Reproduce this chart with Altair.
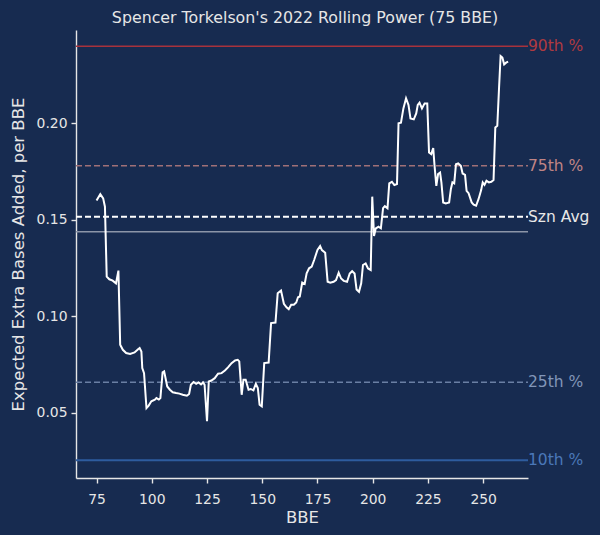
import altair as alt
import pandas as pd
import jinja2

# ---- data ----
bbe = [75.0, 76.7, 78.0, 78.8, 79.6, 80.8, 82.3, 83.8, 84.9, 85.7, 86.9, 88.4, 90.2, 92.2, 93.8, 94.5,
       95.3, 95.7, 96.5, 97.6, 98.6, 99.8, 101.4, 102.1, 103.2, 103.9, 104.9, 105.6, 107.0, 108.2,
       109.5, 111.0, 112.5, 114.0, 115.9, 116.9, 117.7, 118.9, 120.1, 121.2, 122.3, 123.2, 123.9,
       125.0, 125.8, 127.0, 128.5, 130.0, 131.6, 133.1, 134.6, 136.1, 137.7, 138.9, 139.6, 140.7,
       141.5, 142.5, 143.8, 144.8, 146.0, 147.1, 148.0, 148.8, 149.8, 150.9, 152.9, 154.0, 156.0,
       157.0, 158.5, 159.8, 161.0, 162.0, 163.1, 164.3, 165.4, 166.2, 167.0, 168.1, 169.2, 170.1,
       171.2, 172.4, 173.5, 175.0, 176.2, 177.0, 178.5, 179.6, 180.8, 182.3, 183.4, 184.6, 185.7,
       186.9, 188.4, 189.6, 190.7, 191.8, 192.7, 193.8, 194.8, 195.6, 196.8, 197.9, 199.1, 199.8,
       200.6, 201.4, 202.6, 203.7, 204.7, 205.5, 206.7, 207.5, 208.7, 209.8, 211.0, 211.7, 212.8,
       213.9, 215.1, 216.2, 217.1, 218.6, 219.7, 220.4, 221.2, 222.3, 223.5, 224.7, 225.5, 226.5,
       227.4, 228.0, 228.8, 229.6, 230.5, 231.1, 231.9, 233.1, 234.6, 235.4, 236.1, 236.9, 237.7,
       238.7, 239.9, 240.7, 241.8, 242.5, 243.4, 244.8, 245.7, 246.8, 247.9, 249.1, 249.8, 250.6,
       251.5, 252.6, 253.7, 254.7, 255.5, 256.4, 257.2, 257.9, 258.7, 259.5, 260.4, 261.3]
xeba = [0.1600, 0.1633, 0.1611, 0.1568, 0.1206, 0.1192, 0.1185, 0.1171, 0.1237, 0.0853, 0.0827, 0.0810,
        0.0805, 0.0813, 0.0830, 0.0836, 0.0818, 0.0732, 0.0706, 0.0525, 0.0538, 0.0560, 0.0569, 0.0577,
        0.0569, 0.0577, 0.0710, 0.0715, 0.0637, 0.0620, 0.0607, 0.0603, 0.0600, 0.0594, 0.0589, 0.0598,
        0.0646, 0.0660, 0.0651, 0.0658, 0.0648, 0.0658, 0.0646, 0.0457, 0.0663, 0.0668, 0.0680, 0.0703,
        0.0706, 0.0720, 0.0737, 0.0758, 0.0772, 0.0775, 0.0767, 0.0594, 0.0672, 0.0672, 0.0620, 0.0624,
        0.0617, 0.0651, 0.0629, 0.0543, 0.0534, 0.0758, 0.0761, 0.0965, 0.0968, 0.1120, 0.1134, 0.1065,
        0.1047, 0.1037, 0.1060, 0.1060, 0.1072, 0.1099, 0.1103, 0.1175, 0.1168, 0.1223, 0.1249, 0.1258,
        0.1292, 0.1344, 0.1364, 0.1343, 0.1329, 0.1179, 0.1174, 0.1179, 0.1188, 0.1226, 0.1196, 0.1184,
        0.1179, 0.1222, 0.1234, 0.1222, 0.1139, 0.1127, 0.1171, 0.1266, 0.1274, 0.1248, 0.1240, 0.1620,
        0.1416, 0.1456, 0.1464, 0.1456, 0.1560, 0.1571, 0.1560, 0.1689, 0.1697, 0.1680, 0.1685, 0.2000,
        0.2003, 0.2077, 0.2129, 0.2095, 0.2025, 0.2020, 0.2051, 0.2095, 0.2107, 0.2077, 0.2103, 0.2103,
        0.1849, 0.1840, 0.1871, 0.1780, 0.1676, 0.1737, 0.1745, 0.1694, 0.1590, 0.1585, 0.1590, 0.1660,
        0.1694, 0.1689, 0.1788, 0.1792, 0.1780, 0.1740, 0.1733, 0.1650, 0.1638, 0.1590, 0.1578, 0.1573,
        0.1607, 0.1654, 0.1694, 0.1681, 0.1702, 0.1694, 0.1697, 0.1706, 0.1978, 0.1987, 0.2185, 0.2348,
        0.2340, 0.2305, 0.2314, 0.2319]

ref_labels = ["90th %", "75th %", "Szn Avg", "", "25th %", "10th %"]
ref_values = [0.2399, 0.1780, 0.1516, 0.1438, 0.0659, 0.0255]
ref_colors = ["#a8323c", "#a07077", "#ffffff", "#8c95a8", "#6a7fa3", "#2e5c9e"]
ref_text_colors = ["#b03a40", "#c08585", "#e8e8e8", "#8c95a8", "#8296b8", "#4b78b8"]
ref_dash = [[1, 0], [6, 3], [6, 3], [1, 0], [6, 3], [1, 0]]
ref_width = [1.6, 1.6, 1.8, 1.6, 1.6, 1.8]

x_ticks = [75, 100, 125, 150, 175, 200, 225, 250]
y_ticks = [0.05, 0.10, 0.15, 0.20]

W, H = 452, 448
BG = "#172b50"
FG = "#e6e6e6"
FONT = "DejaVu Sans"

df = pd.DataFrame({"bbe": bbe, "xeba": xeba})

xscale = alt.Scale(domain=[65.7, 270.3], nice=False, zero=False)
yscale = alt.Scale(domain=[0.0163, 0.2483], nice=False, zero=False)

layers = []
for lab, val, col, tcol, dash, sw in zip(ref_labels, ref_values, ref_colors, ref_text_colors, ref_dash, ref_width):
    rdf = pd.DataFrame({"v": [val], "lab": [lab]})
    base = alt.Chart(rdf)
    layers.append(base.mark_rule(color=col, strokeWidth=sw, strokeDash=dash).encode(
        y=alt.Y("v:Q", scale=yscale), x=alt.value(0), x2=alt.value(W)))
    if lab:
        layers.append(base.mark_text(color=tcol, align="left", baseline="middle", fontSize=15.5,
                                     font=FONT, dx=0).encode(
            y=alt.Y("v:Q", scale=yscale), x=alt.value(W), text="lab:N"))

line = alt.Chart(df).mark_line(color="white", strokeWidth=2, clip=True).encode(
    x=alt.X("bbe:Q", scale=xscale,
            axis=alt.Axis(title="BBE", values=x_ticks, format="d", grid=False)),
    y=alt.Y("xeba:Q", scale=yscale,
            axis=alt.Axis(title="Expected Extra Bases Added, per BBE", values=y_ticks, format=".2f",
                          grid=False)),
    order="bbe:Q",
)

chart = alt.layer(*layers, line).properties(
    width=W, height=H,
    title=alt.TitleParams("Spencer Torkelson's 2022 Rolling Power (75 BBE)", fontSize=15.8,
                          font=FONT, color=FG, fontWeight="normal", offset=3, dx=3),
    autosize=alt.AutoSizeParams(type="none"),
    padding={"left": 68, "top": 22, "right": 64, "bottom": 49},
    background=BG,
).configure_view(stroke=None).configure_axis(
    domainColor=FG, domainWidth=1.4, tickColor=FG, tickWidth=1.4, tickSize=5,
    labelColor=FG, labelFont=FONT, labelFontSize=13.9, titleColor=FG, titleFont=FONT,
    titleFontSize=16.5, titleFontWeight="normal",
).configure_axisX(titlePadding=4, labelPadding=9).configure_axisY(titlePadding=10, labelPadding=4)

PAGE = jinja2.Template("""<!DOCTYPE html>
<html>
<head>
  <style>html, body { background-color: """ + BG + """; }</style>
  <script type="text/javascript" src="{{ base_url }}/vega@{{ vega_version }}"></script>
  <script type="text/javascript" src="{{ base_url }}/vega-lite@{{ vegalite_version }}"></script>
  <script type="text/javascript" src="{{ base_url }}/vega-embed@{{ vegaembed_version }}"></script>
</head>
<body>
  <div id="{{ output_div }}"></div>
  <script type="text/javascript">
    (function(vegaEmbed) {
      var spec = {{ spec }};
      var embedOpt = {{ embed_options }};
      vegaEmbed("#{{ output_div }}", spec, embedOpt).catch(console.error);
    })(vegaEmbed);
  </script>
</body>
</html>
""")

try:
    chart.save("out.html", embed_options={"renderer": "svg", "actions": False}, template=PAGE)
except Exception:
    chart.save("out.html", embed_options={"renderer": "svg", "actions": False})
